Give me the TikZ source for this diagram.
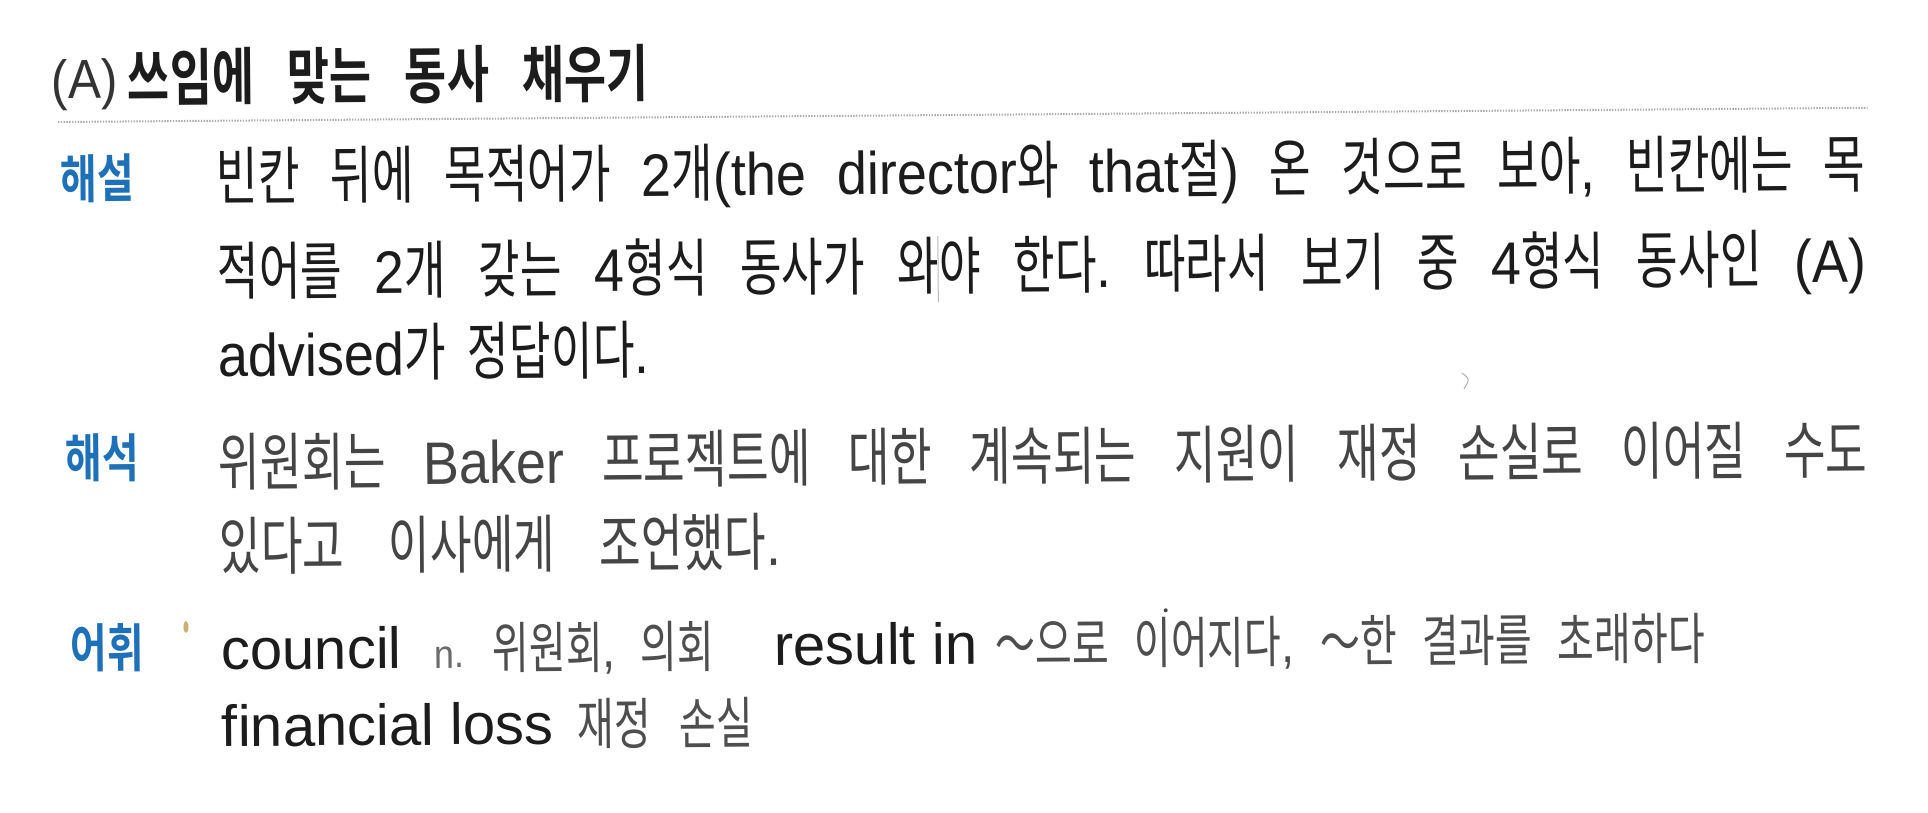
\documentclass[tikz,border=0pt]{standalone}
\usepackage{fontspec}
\setmainfont{Liberation Sans}
\newfontfamily\lat{Liberation Sans}[FakeStretch=0.9]
\newfontfamily\kr{Noto Sans CJK KR}[FakeStretch=0.72,Scale=1.05]
\newfontfamily\krhead{Noto Sans CJK KR}[UprightFont={* Bold},FakeStretch=0.74]
\newfontfamily\krlab{Noto Sans CJK KR}[UprightFont={* Bold},FakeStretch=0.77]
\newcommand\HG[1]{{\kr #1}}
\newcommand\evensp{\frenchspacing\spaceskip=14pt plus 1fil minus 8pt\relax}
\newcommand\fixsp{\frenchspacing\spaceskip=22pt\relax}
\definecolor{lblue}{RGB}{30,112,184}
\definecolor{ink}{RGB}{28,28,28}
\definecolor{tan}{RGB}{205,175,115}
\tikzset{
  txt/.style={inner sep=0pt, outer sep=0pt, anchor=base west},
  headlat/.style={txt, font=\lat\fontsize{55}{55}\selectfont, text=ink!90},
  headkr/.style={txt, font=\krhead\fontsize{62}{62}\selectfont\evensp, text=ink},
  lab/.style={txt, font=\krlab\fontsize{52}{52}\selectfont, text=lblue},
  body/.style={txt, font=\lat\fontsize{60}{60}\selectfont\evensp, text=ink},
  bodyfix/.style={txt, font=\lat\fontsize{60}{60}\selectfont\fixsp, text=ink},
  thinbody/.style={txt, font=\lat\fontsize{60}{60}\selectfont\evensp, text=ink!82},
  voc/.style={txt, font=\fontsize{58}{58}\selectfont, text=ink},
  nsmall/.style={txt, font=\lat\fontsize{40}{40}\selectfont, text=ink!65},
  gloss/.style={txt, font=\lat\fontsize{53}{53}\selectfont\evensp, text=ink!78},
  dotrule/.style={draw=gray!65, line width=2pt, dash pattern=on 1.4pt off 1.4pt},
}
\begin{document}
\begin{tikzpicture}[x=1pt,y=-1pt]
\fill[white] (0,0) rectangle (1928,812);
\useasboundingbox (0,0) rectangle (1928,812);
\begin{scope}[rotate around={0.45:(60,120)}, transform shape]
  % header
  \node[headlat] (hA) at (52,99) {(A)};
  \node[headkr] (htitle) at (128,101) {\makebox[521pt][s]{쓰임에 맞는 동사 채우기}};
  \coordinate (ruleL) at (58,122);
  \coordinate (ruleR) at (1868,122);
  \draw[dotrule] (ruleL) -- (ruleR);
  % labels
  \node[lab] (l1) at (60,198) {해설};
  \node[lab] (l2) at (63,478) {해석};
  \node[lab] (l3) at (66,668) {어휘};
  % explanation
  \node[body] (e1) at (216,201) {\makebox[1649pt][s]{\HG{빈칸 뒤에 목적어가} 2\HG{개}(the director\HG{와} that\HG{절}) \HG{온 것으로 보아}, \HG{빈칸에는 목}}};
  \node[body] (e2) at (216,296) {\makebox[1649pt][s]{\HG{적어를} 2\HG{개 갖는} 4\HG{형식 동사가 와야 한다}. \HG{따라서 보기 중} 4\HG{형식 동사인} (A)}};
  \node[bodyfix] (e3) at (216,378) {advised\HG{가} \HG{정답이다}.};
  % translation
  \node[thinbody] (t1) at (216,487) {\makebox[1649pt][s]{\HG{위원회는} Baker \HG{프로젝트에 대한 계속되는 지원이 재정 손실로 이어질 수도}}};
  \node[thinbody] (t2) at (216,571) {\makebox[562pt][s]{\HG{있다고 이사에게 조언했다}.}};
  % vocabulary
  \node[voc] (v1) at (217,671) {council};
  \node[nsmall] (v2) at (430,671) {n.};
  \node[gloss] (v3) at (488,672) {\makebox[222pt][s]{\HG{위원회}, \HG{의회}}};
  \node[voc] (v4) at (770,671) {result in};
  \node[gloss] (v5) at (991,672) {\makebox[710pt][s]{\HG{～으로 이어지다}, \HG{～한 결과를 초래하다}}};
  \node[voc] (v6) at (217,748) {financial loss};
  \node[gloss] (v7) at (573,749) {\makebox[175pt][s]{\HG{재정 손실}}};
  % scan marks
  \coordinate (m1a) at (937,243);
  \coordinate (m1b) at (937,309);
  \draw[gray!55, line width=1pt] (m1a) -- (m1b);
  \coordinate (m2) at (182,628);
  \fill[tan] (m2) ellipse [x radius=2.5pt, y radius=6pt];
  \coordinate (m3) at (1162,619);
  \fill[ink!80] (m3) circle [radius=2pt];
  \coordinate (m4a) at (1460,384);
  \coordinate (m4b) at (1462,400);
  \draw[gray!60, line width=1pt] (m4a) .. controls (1468,390) .. (m4b);
\end{scope}
\end{tikzpicture}
\end{document}
